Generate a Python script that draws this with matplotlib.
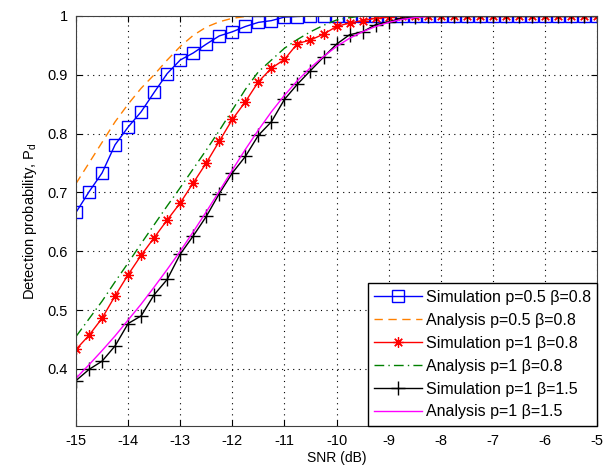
"""plot.py"""

import matplotlib
matplotlib.use("Agg")
import matplotlib.pyplot as plt
import numpy as np

# SNR grid (dB), step 0.25
snr = np.arange(-15, -4.99, 0.25)

sim_p05_b08 = [0.666, 0.701, 0.733, 0.781, 0.811, 0.837, 0.870, 0.902, 0.925,
               0.937, 0.952, 0.966, 0.973, 0.982, 0.989, 0.992, 0.998, 0.999] + [1.0] * 23
ana_p05_b08 = [0.715, 0.750, 0.785, 0.820, 0.850, 0.877, 0.900, 0.925, 0.948,
               0.967, 0.981, 0.990, 0.996, 0.999] + [1.0] * 27
sim_p1_b08 = [0.433, 0.457, 0.486, 0.524, 0.560, 0.593, 0.623, 0.653, 0.682,
              0.716, 0.750, 0.787, 0.824, 0.854, 0.888, 0.911, 0.926, 0.953,
              0.959, 0.969, 0.982, 0.988, 0.992, 0.996, 0.998] + [1.0] * 16
ana_p1_b08 = [0.455, 0.485, 0.515, 0.548, 0.580, 0.613, 0.645, 0.677, 0.708,
              0.740, 0.772, 0.805, 0.840, 0.875, 0.905, 0.925, 0.945, 0.960,
              0.973, 0.984, 0.993, 0.997] + [1.0] * 19
sim_p1_b15 = [0.380, 0.399, 0.413, 0.439, 0.477, 0.490, 0.526, 0.552, 0.595,
              0.626, 0.659, 0.698, 0.733, 0.761, 0.797, 0.820, 0.858, 0.884,
              0.907, 0.930, 0.952, 0.968, 0.973, 0.985, 0.990, 0.996, 0.998] + [1.0] * 14
ana_p1_b15 = [0.384, 0.407, 0.431, 0.456, 0.483, 0.510, 0.539, 0.569, 0.600,
              0.633, 0.667, 0.702, 0.738, 0.773, 0.806, 0.837, 0.865, 0.890,
              0.912, 0.931, 0.948, 0.962, 0.973, 0.982, 0.989, 0.994, 0.997,
              0.999] + [1.0] * 13

labels = ["Simulation p=0.5 \u03b2=0.8", "Analysis p=0.5 \u03b2=0.8",
          "Simulation p=1 \u03b2=0.8", "Analysis p=1 \u03b2=0.8",
          "Simulation p=1 \u03b2=1.5", "Analysis p=1 \u03b2=1.5"]
xticks = list(range(-15, -4))
yticks = [0.4, 0.5, 0.6, 0.7, 0.8, 0.9, 1.0]
ytick_labels = ["0.4", "0.5", "0.6", "0.7", "0.8", "0.9", "1"]

plt.rcParams["font.family"] = ["Liberation Sans", "DejaVu Sans"]
plt.rcParams["axes.unicode_minus"] = False

fig = plt.figure(figsize=(6.13, 4.68), dpi=100)
ax = fig.add_axes([0.124, 0.09, 0.850, 0.876])

ax.plot(snr, sim_p05_b08, color="#0000ff", lw=1, marker="s", ms=8.5,
        mfc="none", mec="#0000ff", mew=1, label=labels[0])
ax.plot(snr, ana_p05_b08, color="#ff8000", lw=1, ls=(0, (6, 4)), label=labels[1])
ax.plot(snr, sim_p1_b08, color="#ff0000", lw=1, marker=(8, 2, 0), ms=7.5,
        mew=0.9, label=labels[2])
ax.plot(snr, ana_p1_b08, color="#008000", lw=1, ls=(0, (7, 3, 1, 3)), label=labels[3])
ax.plot(snr, sim_p1_b15, color="black", lw=1, marker="+", ms=10,
        mew=1, label=labels[4])
ax.plot(snr, ana_p1_b15, color="#ff00ff", lw=1, label=labels[5])

ax.set_xlim(-15, -5)
ax.set_ylim(0.303, 1)
ax.set_xticks(xticks)
ax.set_yticks(yticks)
ax.set_yticklabels(ytick_labels)
ax.tick_params(direction="in", top=True, right=True, labelsize=10.5, length=4, pad=6)
ax.grid(True, ls=(0, (1, 4)), color="black", lw=0.8)
for s in ax.spines.values():
    s.set_color("#404040")

ax.set_xlabel("SNR (dB)", fontsize=10, labelpad=2)
ax.set_ylabel("Detection probability, P$_\\mathregular{d}$", fontsize=10.5, labelpad=6)

leg = ax.legend(loc="lower right", fontsize=11.5, fancybox=False, framealpha=1,
                edgecolor="black", borderaxespad=0.0, handlelength=3.0,
                labelspacing=0.5, handletextpad=0.2, borderpad=0.4)
leg.get_frame().set_linewidth(1)

fig.savefig("out.png", dpi=100)
